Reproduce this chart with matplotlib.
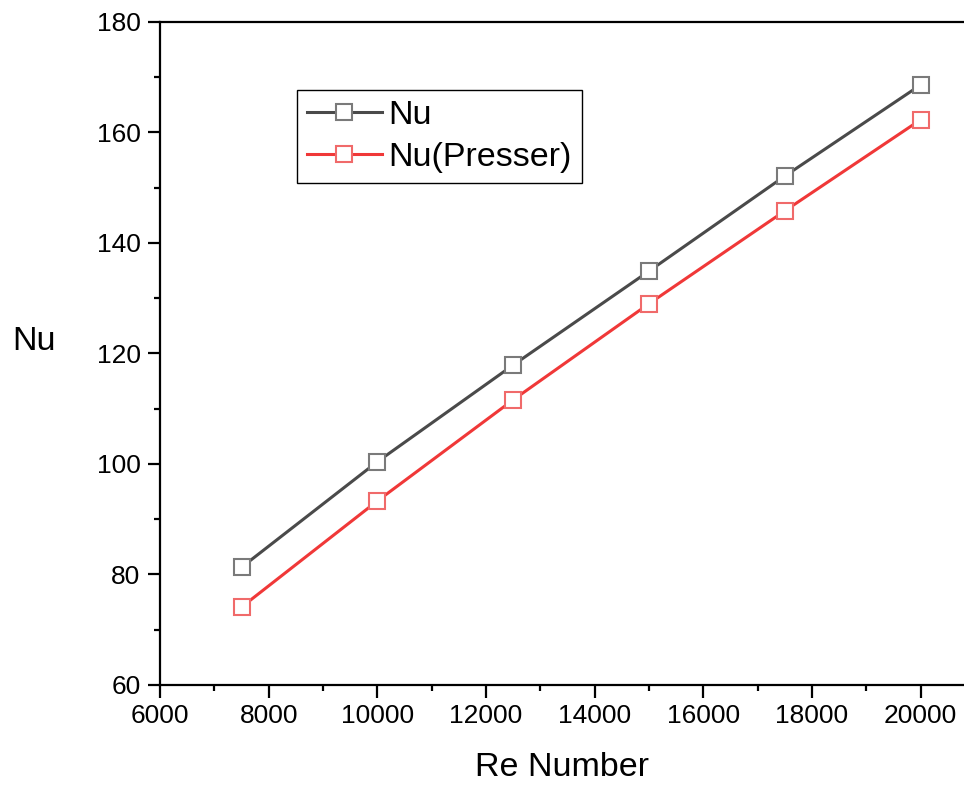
import matplotlib.pyplot as plt
from matplotlib.ticker import MultipleLocator

plt.rcParams['font.family'] = ['Liberation Sans', 'DejaVu Sans']

re_number = [7500, 10000, 12500, 15000, 17500, 20000]
nu = [81.3, 100.4, 117.9, 134.9, 152.1, 168.6]
nu_presser = [74.1, 93.3, 111.6, 129.0, 145.8, 162.3]

fig = plt.figure(figsize=(9.64, 7.85), dpi=100)
ax = fig.add_axes([0.166, 0.1274, 0.834, 0.8446])

ax.plot(re_number, nu, '-s', color='#4a4a4a', lw=2.2, ms=11,
        mfc='white', mec='#7a7a7a', mew=1.5, label='Nu')
ax.plot(re_number, nu_presser, '-s', color='#f03838', lw=2.2, ms=11,
        mfc='white', mec='#f06a6a', mew=1.5, label='Nu(Presser)')

ax.set_xlim(6000, 20800)
ax.set_ylim(60, 180)
ax.xaxis.set_major_locator(MultipleLocator(2000))
ax.xaxis.set_minor_locator(MultipleLocator(1000))
ax.yaxis.set_major_locator(MultipleLocator(20))
ax.yaxis.set_minor_locator(MultipleLocator(10))

ax.spines['right'].set_visible(False)
for s in ['left', 'bottom', 'top']:
    ax.spines[s].set_linewidth(1.6)

ax.tick_params(which='major', direction='out', length=9, width=1.6, labelsize=19, pad=5)
ax.tick_params(which='minor', direction='out', length=4.5, width=1.6)

ax.set_xlabel('Re Number', fontsize=24.5, labelpad=17)
ax.set_ylabel('Nu', fontsize=24.5, rotation=0)
ax.yaxis.set_label_coords(-0.157, 0.495)

leg = ax.legend(loc='upper left', bbox_to_anchor=(0.170, 0.898), fontsize=24.5,
                fancybox=False, edgecolor='black', framealpha=1,
                handlelength=2.2, handletextpad=0.2, borderpad=0.3,
                labelspacing=0.32, borderaxespad=0)
leg.get_frame().set_linewidth(1.0)

fig.savefig('out.png', dpi=100)
